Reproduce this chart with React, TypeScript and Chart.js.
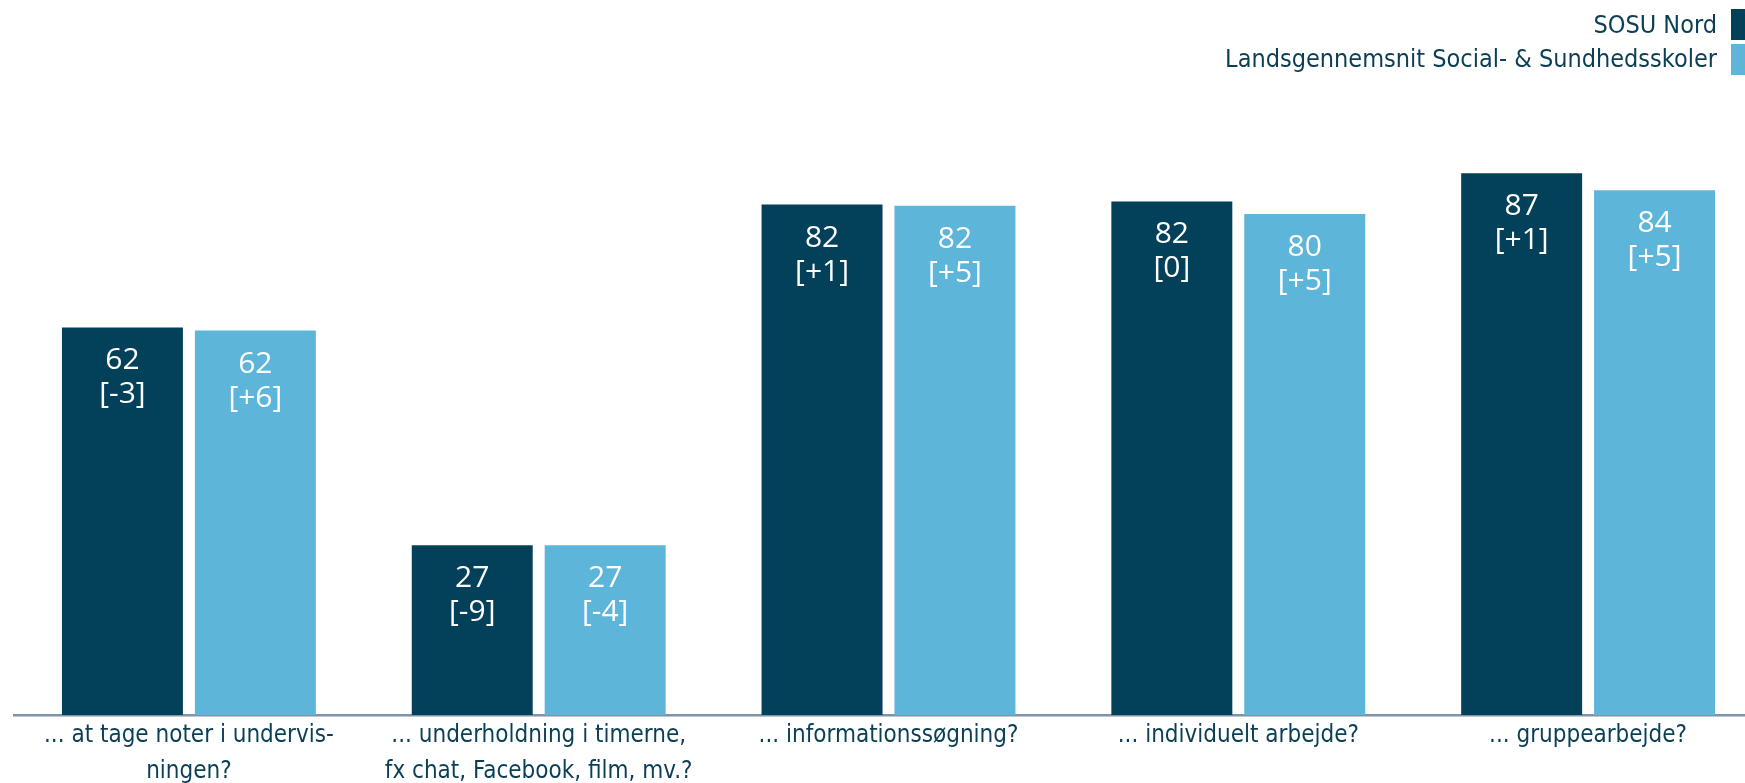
import React, { useEffect, useRef } from "react";
import { Chart, registerables } from "chart.js";

Chart.register(...registerables);

const categories: string[][] = [
  ["... at tage noter i undervis-", "ningen?"],
  ["... underholdning i timerne,", "fx chat, Facebook, film, mv.?"],
  ["... informationssøgning?"],
  ["... individuelt arbejde?"],
  ["... gruppearbejde?"],
];

const seriesNames = ["SOSU Nord", "Landsgennemsnit Social- & Sundhedsskoler"];
const sosuNord = [62.1, 27.2, 81.8, 82.3, 86.8];
const landsgennemsnit = [61.6, 27.2, 81.6, 80.3, 84.1];
const sosuNordChange = ["[-3]", "[-9]", "[+1]", "[0]", "[+1]"];
const landsChange = ["[+6]", "[-4]", "[+5]", "[+5]", "[+5]"];

const DARK = "#03405a";
const LIGHT = "#5eb5da";
const TEXT = "#0b3f55";
const TEXT_FONT = "'DejaVu Sans Condensed', 'Liberation Sans'";

const CANVAS_W = 1780;
const CANVAS_H = 783;

export default function App() {
  const ref = useRef<HTMLCanvasElement | null>(null);

  useEffect(() => {
    if (!ref.current) return;
    const changes = [sosuNordChange, landsChange];

    const labelPlugin = {
      id: "barLabels",
      afterDatasetsDraw(chart: any) {
        const ctx = chart.ctx;
        ctx.save();
        ctx.fillStyle = "#ffffff";
        ctx.textAlign = "center";
        ctx.textBaseline = "alphabetic";
        ctx.font = "30px 'Open Sans'";
        chart.data.datasets.forEach((ds: any, di: number) => {
          const meta = chart.getDatasetMeta(di);
          meta.data.forEach((bar: any, i: number) => {
            const v = Math.round(ds.data[i]);
            ctx.fillText(String(v), bar.x, bar.y + 42);
            ctx.fillText(changes[di][i], bar.x, bar.y + 76);
          });
        });
        ctx.restore();
      },
    };

    const legendPlugin = {
      id: "customLegend",
      afterDraw(chart: any) {
        const ctx = chart.ctx;
        ctx.save();
        ctx.font = "25px " + TEXT_FONT;
        ctx.textAlign = "right";
        ctx.textBaseline = "alphabetic";
        const rows = [
          { top: 9, base: 33 },
          { top: 44, base: 67 },
        ];
        chart.data.datasets.forEach((ds: any, di: number) => {
          const r = rows[di];
          ctx.fillStyle = ds.backgroundColor;
          ctx.fillRect(1731, r.top, 31, 31);
          ctx.fillStyle = TEXT;
          ctx.fillText(ds.label, 1717, r.base);
        });
        ctx.restore();
      },
    };

    const chart = new Chart(ref.current, {
      type: "bar",
      data: {
        labels: categories,
        datasets: [
          {
            label: seriesNames[0],
            data: sosuNord,
            backgroundColor: DARK,
            categoryPercentage: 0.76,
            barPercentage: 0.91,
          },
          {
            label: seriesNames[1],
            data: landsgennemsnit,
            backgroundColor: LIGHT,
            categoryPercentage: 0.76,
            barPercentage: 0.91,
          },
        ],
      },
      options: {
        animation: false,
        responsive: false,
        devicePixelRatio: 1,
        layout: {
          padding: { left: 14, right: CANVAS_W - 1763, top: 91, bottom: 0 },
        },
        plugins: {
          legend: { display: false },
          tooltip: { enabled: false },
        },
        scales: {
          y: {
            display: false,
            min: 0,
            max: 100,
          },
          x: {
            afterFit: (scale: any) => {
              scale.height = 68;
            },
            grid: { display: false, drawTicks: false },
            border: { display: true, color: "#7f93a5", width: 2.5 },
            ticks: {
              color: TEXT,
              font: { family: TEXT_FONT, size: 24, lineHeight: 36 / 24 },
              padding: 3,
              maxRotation: 0,
              autoSkip: false,
            },
          },
        },
      },
      plugins: [labelPlugin, legendPlugin],
    });
    return () => chart.destroy();
  }, []);

  return (
    <div
      style={{
        position: "fixed",
        left: 0,
        top: 0,
        width: 1745,
        height: 783,
        overflow: "hidden",
        background: "#ffffff",
      }}
    >
      <canvas
        ref={ref}
        width={CANVAS_W}
        height={CANVAS_H}
        style={{ width: CANVAS_W, height: CANVAS_H, display: "block" }}
      />
    </div>
  );
}
